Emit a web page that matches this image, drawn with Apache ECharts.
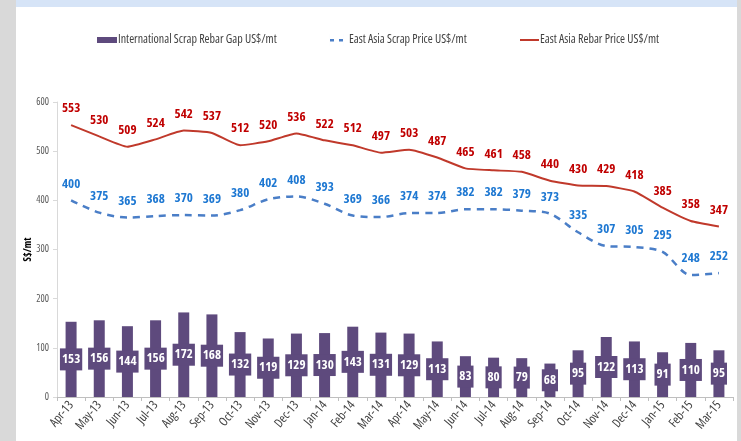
<!DOCTYPE html>
<html>
<head>
<meta charset="utf-8">
<script src="https://cdn.jsdelivr.net/npm/echarts@6/dist/echarts.min.js"></script>
<style>
  html, body { margin: 0; padding: 0; background: #ffffff; }
  #chart { width: 741px; height: 441px; }
</style>
</head>
<body>
<div id="chart"></div>
<script>
const months = ['Apr-13', 'May-13', 'Jun-13', 'Jul-13', 'Aug-13', 'Sep-13', 'Oct-13', 'Nov-13',
  'Dec-13', 'Jan-14', 'Feb-14', 'Mar-14', 'Apr-14', 'May-14', 'Jun-14', 'Jul-14', 'Aug-14',
  'Sep-14', 'Oct-14', 'Nov-14', 'Dec-14', 'Jan-15', 'Feb-15', 'Mar-15']
const gapValues = [153, 156, 144, 156, 172, 168, 132, 119, 129, 130, 143, 131, 129, 113, 83, 80, 79, 68, 95, 122, 113, 91, 110, 95]
const scrapValues = [400, 375, 365, 368, 370, 369, 380, 402, 408, 393, 369, 366, 374, 374, 382, 382, 379, 373, 335, 307, 305, 295, 248, 252]
const rebarValues = [553, 530, 509, 524, 542, 537, 512, 520, 536, 522, 512, 497, 503, 487, 465, 461, 458, 440, 430, 429, 418, 385, 358, 347]

// 找一个最窄的可用字体（原图是压窄的 Calibri）
const ctx = document.createElement('canvas').getContext('2d')
const candidates = [
  { style: 'normal', family: "'Liberation Sans Narrow'" },
  { style: 'normal', family: "'DejaVu Sans Condensed'" },
  { style: 'condensed', family: "'Noto Sans'" },
  { style: 'condensed', family: "'Open Sans'" },
  { style: 'condensed', family: "'DejaVu Sans'" },
  { style: 'normal', family: "'Liberation Sans'" }
]
const probe = 'International Scrap Rebar Gap 0123456789'
let best = candidates[candidates.length - 1]
let bestW = Infinity
candidates.forEach(c => {
  ctx.font = `${c.style} normal 20px ${c.family}`
  const w = ctx.measureText(probe).width
  if (w < bestW - 0.5) { bestW = w; best = c }
})
const FONT = best.family + ', sans-serif'
const NARROW = best.style

// 按目标宽度算字号
function fitSize (text, target, weight) {
  ctx.font = `${NARROW} ${weight} 100px ${FONT}`
  return Math.round(100 * target / ctx.measureText(text).width * 2) / 2
}
const legendSize = fitSize('International Scrap Rebar Gap US$/mt', 156, 'normal')
const valueSize = fitSize('553', 18.5, 'bold')
const yLabelSize = fitSize('600', 13, 'normal')
const xLabelSize = fitSize('Apr-13', 29, 'normal')

const chart = echarts.init(document.getElementById('chart'))

// 图例的公共样式
const legendBase = {
  top: 29,
  itemHeight: 12,
  textStyle: { fontFamily: FONT, fontStyle: NARROW, fontSize: legendSize, color: '#404040', padding: [0, 0, 0, -4] }
}

const option = {
  animation: false,
  backgroundColor: '#ffffff',
  graphic: [
    { type: 'rect', left: 0, top: 0, shape: { width: 16, height: 441 }, style: { fill: '#d9d9d9' }, silent: true },
    { type: 'rect', left: 16, top: 0, shape: { width: 721, height: 7 }, style: { fill: '#d6e4f7' }, silent: true },
    { type: 'rect', left: 737, top: 0, shape: { width: 4, height: 441 }, style: { fill: '#d9d9d9' }, silent: true }
  ],
  legend: [
    Object.assign({}, legendBase, {
      left: 92,
      itemWidth: 20,
      data: [{ name: 'International Scrap Rebar Gap US$/mt', icon: 'path://M0,3h20v6h-20z' }]
    }),
    Object.assign({}, legendBase, {
      left: 324,
      itemWidth: 15,
      textStyle: Object.assign({}, legendBase.textStyle, { padding: [0, 0, 0, 0] }),
      data: [{ name: 'East Asia Scrap Price US$/mt', icon: 'path://M1,5h4v2.5h-4z M10,5h4v2.5h-4z M0,0h0.01v12h-0.01z M15,0h0.01v12h-0.01z' }]
    }),
    Object.assign({}, legendBase, {
      left: 515,
      itemWidth: 19,
      data: [{ name: 'East Asia Rebar Price US$/mt', icon: 'path://M0,5h19v2h-19z M0,0h0.01v12h-0.01z' }]
    })
  ],
  grid: { left: 57, right: 8, top: 102, bottom: 44 },
  xAxis: {
    type: 'category',
    data: months,
    axisLine: { lineStyle: { color: '#bfbfbf' } },
    axisTick: { show: true, length: 4, lineStyle: { color: '#bfbfbf' } },
    axisLabel: { rotate: 50, fontFamily: FONT, fontStyle: NARROW, fontSize: xLabelSize, color: '#404040', margin: 6, interval: 0 }
  },
  yAxis: {
    type: 'value',
    min: 0,
    max: 600,
    interval: 100,
    name: 'S$/mt',
    nameLocation: 'middle',
    nameRotate: 90,
    nameGap: 24,
    nameMoveOverlap: false,
    nameTextStyle: { fontFamily: FONT, fontStyle: NARROW, fontSize: yLabelSize, fontWeight: 'bold', color: '#000000' },
    axisLine: { show: true, lineStyle: { color: '#d9d9d9' } },
    axisTick: { show: true, length: 4, lineStyle: { color: '#d9d9d9' } },
    splitLine: { show: false },
    axisLabel: { fontFamily: FONT, fontStyle: NARROW, fontSize: yLabelSize, color: '#595959', margin: 8 }
  },
  series: [
    {
      name: 'International Scrap Rebar Gap US$/mt',
      type: 'bar',
      data: gapValues,
      barWidth: 11,
      itemStyle: { color: '#5e4a7d' },
      label: {
        show: true,
        position: 'inside',
        fontFamily: FONT,
        fontStyle: NARROW,
        fontSize: valueSize,
        fontWeight: 'bold',
        color: '#ffffff',
        backgroundColor: '#5e4a7d',
        padding: [5, 2, 4, 2]
      }
    },
    {
      name: 'East Asia Scrap Price US$/mt',
      type: 'line',
      data: scrapValues,
      smooth: 0.3,
      symbol: 'circle',
      symbolSize: 0,
      lineStyle: { color: '#4a7ec7', width: 2.5, type: [7, 6] },
      itemStyle: { color: '#4a7ec7' },
      label: {
        show: true,
        position: 'top',
        distance: 10,
        fontFamily: FONT,
        fontStyle: NARROW,
        fontSize: valueSize,
        fontWeight: 'bold',
        color: '#1e78d2'
      }
    },
    {
      name: 'East Asia Rebar Price US$/mt',
      type: 'line',
      data: rebarValues,
      smooth: 0.15,
      symbol: 'circle',
      symbolSize: 0,
      lineStyle: { color: '#c0392b', width: 2 },
      itemStyle: { color: '#c0392b' },
      label: {
        show: true,
        position: 'top',
        distance: 10,
        fontFamily: FONT,
        fontStyle: NARROW,
        fontSize: valueSize,
        fontWeight: 'bold',
        color: '#c00000'
      }
    }
  ]
}
chart.setOption(option)
</script>
</body>
</html>
